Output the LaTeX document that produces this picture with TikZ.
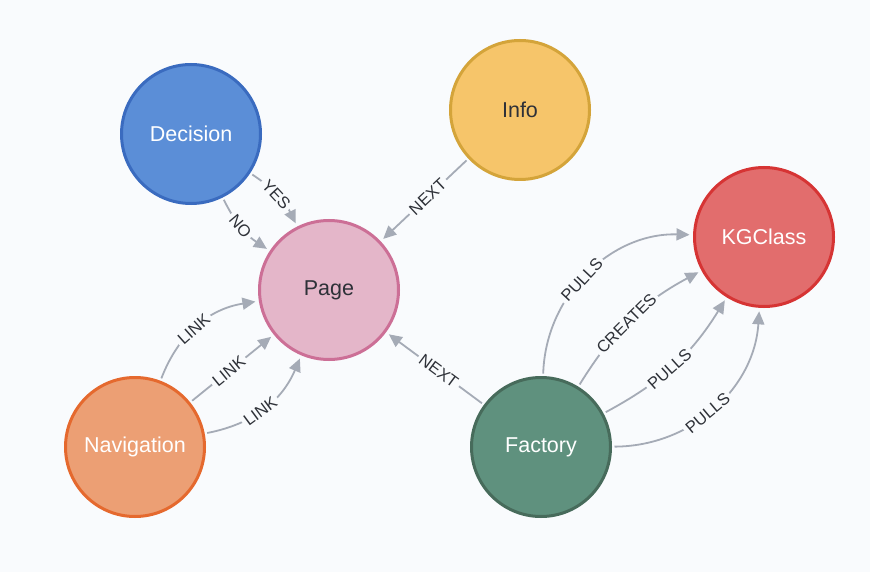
\documentclass[tikz,border=0pt]{standalone}
\usepackage{fontspec}
\setmainfont{Liberation Sans}
\usetikzlibrary{arrows.meta}
\definecolor{bg}{HTML}{F9FBFD}
\definecolor{edgec}{HTML}{A5ABB6}
\definecolor{lblc}{HTML}{2E3138}
\definecolor{decF}{HTML}{5B8ED7}\definecolor{decS}{HTML}{3A6BBF}
\definecolor{infF}{HTML}{F6C56A}\definecolor{infS}{HTML}{D4A43A}
\definecolor{pagF}{HTML}{E4B6C9}\definecolor{pagS}{HTML}{CC6F96}
\definecolor{kgcF}{HTML}{E26D6D}\definecolor{kgcS}{HTML}{D63434}
\definecolor{navF}{HTML}{EC9F74}\definecolor{navS}{HTML}{E5692E}
\definecolor{facF}{HTML}{5F917E}\definecolor{facS}{HTML}{476B5B}
\tikzset{
  gnode/.style={circle, minimum size=139pt, inner sep=0pt, line width=3pt, outer sep=4pt,
    font=\fontsize{21.5}{24}\selectfont},
  rel/.style={draw=edgec, line width=1.8pt, -{Triangle[length=13pt,width=12pt]}, shorten >=1pt},
  lbl/.style={fill=bg, text=lblc, sloped, inner sep=3pt, pos=0.46,
    font=\fontsize{16.5}{18}\selectfont}
}
\begin{document}
\begin{tikzpicture}[x=1pt,y=-1pt]
\fill[bg] (0,0) rectangle (870,572);
\useasboundingbox (0,0) rectangle (870,572);

\node[gnode, fill=decF, draw=decS, text=white] (dec) at (191,134) {Decision};
\node[gnode, fill=infF, draw=infS, text=lblc] (inf) at (520,110) {Info};
\node[gnode, fill=pagF, draw=pagS, text=lblc] (pag) at (329,290) {Page};
\node[gnode, fill=kgcF, draw=kgcS, text=white] (kgc) at (764,237) {KGClass};
\node[gnode, fill=navF, draw=navS, text=white] (nav) at (135,447) {Navigation};
\node[gnode, fill=facF, draw=facS, text=white] (fac) at (541,447) {Factory};

\draw[rel] (dec) to[bend left=15] node[lbl] {YES} (pag);
\draw[rel] (dec) to[bend right=15] node[lbl] {NO} (pag);
\draw[rel] (inf) to node[lbl] {NEXT} (pag);
\draw[rel] (fac) to node[lbl] {NEXT} (pag);

\draw[rel] (nav) to[bend left=30] node[lbl] {LINK} (pag);
\draw[rel] (nav) to node[lbl] {LINK} (pag);
\draw[rel] (nav) to[bend right=28] node[lbl] {LINK} (pag);

\draw[rel] (fac) to[bend left=45] node[lbl] {PULLS} (kgc);
\draw[rel] (fac) to[bend left=15] node[lbl] {CREATES} (kgc);
\draw[rel] (fac) to[bend right=15] node[lbl] {PULLS} (kgc);
\draw[rel] (fac) to[bend right=43] node[lbl] {PULLS} (kgc);
\end{tikzpicture}
\end{document}
